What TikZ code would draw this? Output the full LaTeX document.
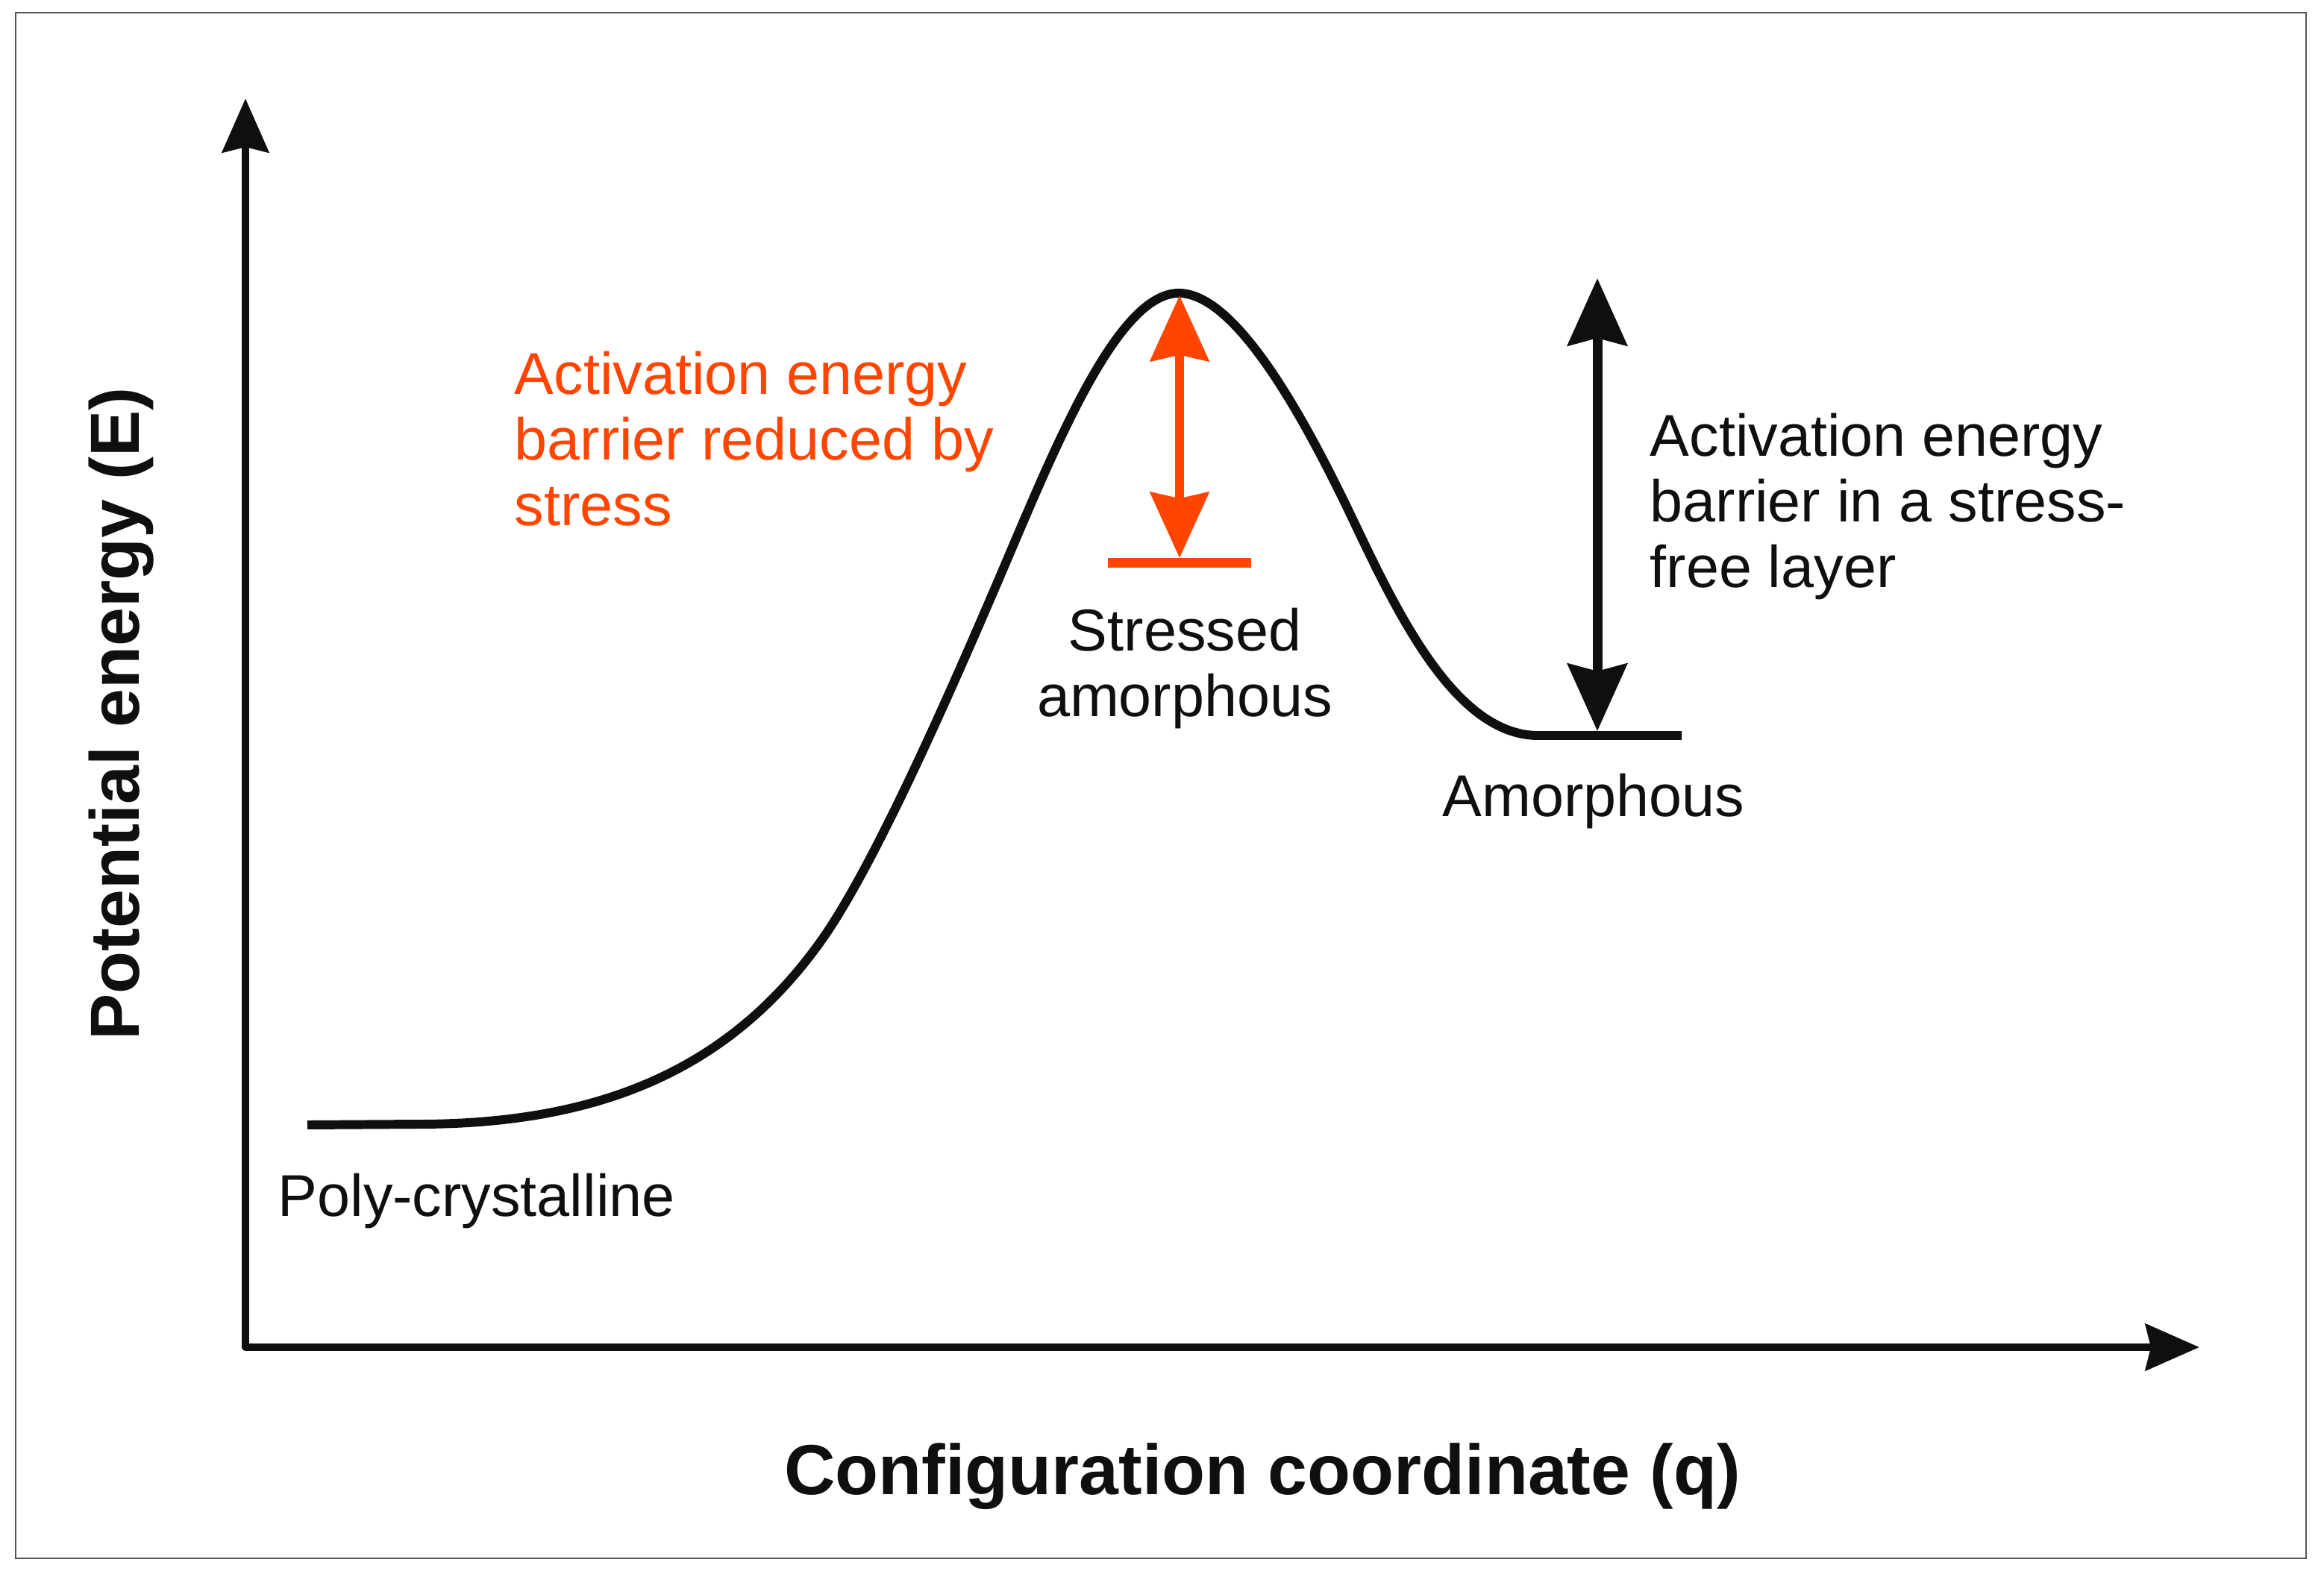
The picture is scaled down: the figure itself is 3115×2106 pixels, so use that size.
\documentclass[tikz,border=0pt]{standalone}
\usepackage{fontspec}
\setmainfont{Liberation Sans}
\usetikzlibrary{arrows.meta}
\definecolor{stressorange}{RGB}{255,69,0}
\definecolor{framegray}{RGB}{85,85,85}
\definecolor{ink}{RGB}{14,16,16}
\tikzset{
  axistip/.tip={Stealth[length=20.5pt,width=17.6pt,inset=2pt]},
  blacktip/.tip={Stealth[length=25.6pt,width=22.5pt,inset=2.8pt]},
  orangetip/.tip={Stealth[length=25pt,width=22.2pt,inset=2.3pt]}}
\begin{document}
\begin{tikzpicture}[x=0.01cm,y=-0.01cm,
  lbl/.style={font=\fontsize{22.5pt}{24.9pt}\selectfont, inner sep=0pt, align=left, text=ink},
  axlbl/.style={font=\fontsize{27pt}{30pt}\selectfont\bfseries, inner sep=0pt, text=ink},
  axisline/.style={draw=ink, line width=3.1pt, line join=round},
  energycurve/.style={draw=ink, line width=3.4pt, line join=round},
  barrierarrow/.style={draw=ink, line width=3.7pt},
  reducedarrow/.style={draw=stressorange, line width=3.4pt},
  levelline/.style={line width=3.7pt}]
\useasboundingbox (0,0) rectangle (3115,2106);
\fill[white] (0,0) rectangle (3115,2106);
\draw[framegray, line width=0.7pt] (21,17) rectangle (3091,2089);

% axes
\coordinate (O) at (329,1806);
\coordinate (Ytip) at (329,132);
\coordinate (Xtip) at (2948,1806);
\draw[axisline, axistip-axistip] (Ytip) -- (O) -- (Xtip);

% energy curve
\coordinate (polyL) at (412,1508);
\coordinate (peakC) at (1580,393);
\coordinate (amL) at (2062,986);
\coordinate (amR) at (2254,986);
\draw[energycurve] (polyL) -- (560,1507)
  .. controls (810,1507) and (980,1430) .. (1100,1262)
  .. controls (1170,1164) and (1270,938) .. (1350,750)
  .. controls (1420,585.5) and (1500,393) .. (peakC)
  .. controls (1660,393) and (1755,574) .. (1815,700)
  .. controls (1875,826) and (1952,986) .. (amL)
  -- (amR);

% stressed amorphous level and reduced barrier
\coordinate (peak) at (1581,396);
\coordinate (stTop) at (1581,748);
\coordinate (stL) at (1485,754);
\coordinate (stR) at (1677,754);
\draw[stressorange, levelline] (stL) -- (stR);
\draw[reducedarrow, orangetip-orangetip] (peak) -- (stTop);

% stress-free barrier
\coordinate (bTop) at (2141,373);
\coordinate (bBot) at (2141,980);
\draw[barrierarrow, blacktip-blacktip] (bTop) -- (bBot);

% labels (base anchor = baseline of last line)
\node[lbl, text=stressorange, anchor=base west] (redlbl) at (689,704) {Activation energy\\barrier reduced by\\stress};
\node[lbl, anchor=base west] (freelbl) at (2211,787) {Activation energy\\barrier in a stress-\\free layer};
\node[lbl, align=center, anchor=base] (stressed) at (1588,960) {Stressed\\amorphous};
\node[lbl, anchor=base] (amorph) at (2136,1094) {Amorphous};
\node[lbl, anchor=base west] (poly) at (372,1630) {Poly-crystalline};
\node[axlbl, font=\fontsize{26.5pt}{30pt}\selectfont\bfseries, rotate=90, anchor=base] (ylab) at (186,957) {Potential energy (E)};
\node[axlbl, anchor=base] (xlab) at (1692,2003) {Configuration coordinate (q)};
\end{tikzpicture}
\end{document}
